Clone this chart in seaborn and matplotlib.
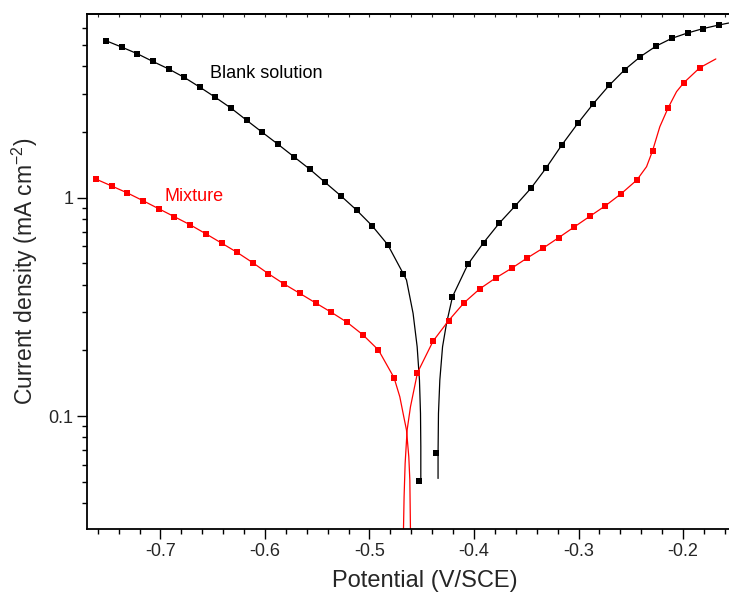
import numpy as np
import matplotlib
matplotlib.use("Agg")
import matplotlib.pyplot as plt
import matplotlib.ticker as mticker
import seaborn as sns

# marker points (potential V/SCE, current density mA cm-2)
blank_cat_E = [-0.7523, -0.7373, -0.7224, -0.7074, -0.6923, -0.6774, -0.6624, -0.6474, -0.6324, -0.6174,
               -0.6024, -0.5875, -0.5724, -0.5574, -0.5425, -0.5275, -0.5124, -0.4975, -0.4825, -0.4675, -0.4522]
blank_cat_i = [5.24, 4.90, 4.57, 4.21, 3.89, 3.56, 3.21, 2.88, 2.57, 2.26,
               1.99, 1.756, 1.541, 1.354, 1.176, 1.021, 0.878, 0.744, 0.609, 0.447, 0.0502]
blank_an_E = [-0.4363, -0.4206, -0.4059, -0.3909, -0.3760, -0.3610, -0.3456, -0.3310, -0.3160, -0.3007,
              -0.2857, -0.2707, -0.2557, -0.2407, -0.2257, -0.2107, -0.1957, -0.1808, -0.1657]
blank_an_i = [0.0679, 0.352, 0.495, 0.622, 0.763, 0.913, 1.104, 1.368, 1.743, 2.19,
              2.70, 3.27, 3.86, 4.43, 4.95, 5.37, 5.68, 5.95, 6.18]

mix_cat_E = [-0.7619, -0.7466, -0.7316, -0.7167, -0.7016, -0.6866, -0.6717, -0.6567, -0.6416, -0.6267,
             -0.6117, -0.5967, -0.5817, -0.5667, -0.5514, -0.5364, -0.5214, -0.5064, -0.4914, -0.4765]
mix_cat_i = [1.218, 1.131, 1.051, 0.969, 0.890, 0.818, 0.752, 0.684, 0.620, 0.562,
             0.504, 0.4485, 0.4025, 0.3648, 0.3294, 0.2985, 0.2687, 0.2358, 0.2006, 0.1498]
mix_an_E = [-0.4541, -0.4391, -0.4244, -0.4095, -0.3944, -0.3794, -0.3641, -0.3492, -0.3342, -0.3191,
            -0.3042, -0.2892, -0.2742, -0.2592, -0.2442, -0.2292, -0.2143, -0.1992, -0.1839]
mix_an_i = [0.158, 0.2207, 0.2733, 0.3304, 0.3829, 0.4286, 0.4749, 0.5294, 0.5864, 0.6558,
            0.7341, 0.8219, 0.9192, 1.043, 1.205, 1.637, 2.576, 3.364, 3.94]

# extra points (near Ecorr and at the ends)
blank_cat_tail_E = [-0.4646, -0.4583, -0.4544, -0.4522, -0.4512, -0.4509, -0.4509]
blank_cat_tail_i = [0.4198, 0.2954, 0.2077, 0.1462, 0.1029, 0.0724, 0.0509]
blank_an_head_E = [-0.4344, -0.4344, -0.4340, -0.4327, -0.4301, -0.4263]
blank_an_head_i = [0.0518, 0.0675, 0.1029, 0.1462, 0.2077, 0.2659]
blank_an_end_E = [-0.1563]
blank_an_end_i = [6.31]

mix_cat_tail_E = [-0.4710, -0.4672, -0.4646, -0.4624, -0.4614, -0.4608]
mix_cat_tail_i = [0.1226, 0.0993, 0.0863, 0.0651, 0.0509, 0.030]
mix_an_head_E = [-0.4675, -0.4669, -0.4659, -0.4640, -0.4608]
mix_an_head_i = [0.030, 0.0427, 0.0607, 0.0863, 0.1103]
mix_an_bend_E = [-0.2349, -0.2222, -0.2062]
mix_an_bend_i = [1.387, 2.114, 3.06]
mix_an_end_E = [-0.1686]
mix_an_end_i = [4.32]

sns.set_style("ticks")
plt.rcParams["font.family"] = ["Liberation Sans", "DejaVu Sans"]
plt.rcParams["mathtext.default"] = "regular"

fig = plt.figure(figsize=(7.29, 6.01), dpi=100)
ax = fig.add_axes([0.1198, 0.1198, 0.8802, 0.8569])

# curves
lines = [
    (blank_cat_E[:-1] + blank_cat_tail_E, blank_cat_i[:-1] + blank_cat_tail_i, "black"),
    (blank_an_head_E + blank_an_E[1:] + blank_an_end_E, blank_an_head_i + blank_an_i[1:] + blank_an_end_i, "black"),
    (mix_cat_E + mix_cat_tail_E, mix_cat_i + mix_cat_tail_i, "red"),
]
# red anodic branch with the extra bend points merged in
ra = sorted(zip(mix_an_head_E + mix_an_E + mix_an_bend_E + mix_an_end_E,
                mix_an_head_i + mix_an_i + mix_an_bend_i + mix_an_end_i))
lines.append(([p[0] for p in ra], [p[1] for p in ra], "red"))

for xs, ys, c in lines:
    sns.lineplot(x=xs, y=ys, sort=False, estimator=None, color=c, lw=0.9, ax=ax)

sns.scatterplot(x=blank_cat_E + blank_an_E, y=blank_cat_i + blank_an_i, marker="s", s=14,
                color="black", linewidth=0, ax=ax, zorder=3)
sns.scatterplot(x=mix_cat_E + mix_an_E, y=mix_cat_i + mix_an_i, marker="s", s=14,
                color="red", linewidth=0, ax=ax, zorder=3)

ax.set_yscale("log")
ax.set_xlim(-0.770, -0.156)
ax.set_ylim(0.0304, 6.94)

ax.xaxis.set_major_locator(mticker.MultipleLocator(0.1))
ax.xaxis.set_minor_locator(mticker.MultipleLocator(0.02))
ax.xaxis.set_major_formatter(mticker.FuncFormatter(lambda v, p: f"{v:.1f}"))
ax.yaxis.set_major_locator(mticker.FixedLocator([0.01, 0.1, 1, 10]))
ax.yaxis.set_major_formatter(mticker.FixedFormatter(["0.01", "0.1", "1", "10"]))
ax.yaxis.set_minor_locator(mticker.LogLocator(base=10, subs=np.arange(2, 10)))
ax.yaxis.set_minor_formatter(mticker.NullFormatter())

ax.tick_params(which="major", direction="out", length=7, width=1, labelsize=13, pad=3, color="black")
ax.tick_params(which="minor", direction="out", length=3.6, width=1, color="black")
ax.tick_params(axis="x", top=False)

sec = ax.secondary_xaxis("top")
sec.xaxis.set_major_locator(mticker.MultipleLocator(0.02))
sec.tick_params(direction="in", length=2.5, width=0.8, labeltop=False)
sec.spines["top"].set_linewidth(1.4)

for s in ["left", "bottom", "top"]:
    ax.spines[s].set_linewidth(1.3)
    ax.spines[s].set_color("black")
ax.spines["right"].set_visible(False)

ax.set_xlabel("Potential (V/SCE)", fontsize=17, labelpad=5)
ax.xaxis.set_label_coords(0.526, -0.08)
ax.set_ylabel("Current density (mA cm$^{-2}$)", fontsize=16.5, labelpad=6)

ax.text(-0.6528, 3.69, "Blank solution", fontsize=13, color="black", va="center", ha="left")
ax.text(-0.6966, 1.01, "Mixture", fontsize=13, color="red", va="center", ha="left")

fig.savefig("out.png", dpi=100)
